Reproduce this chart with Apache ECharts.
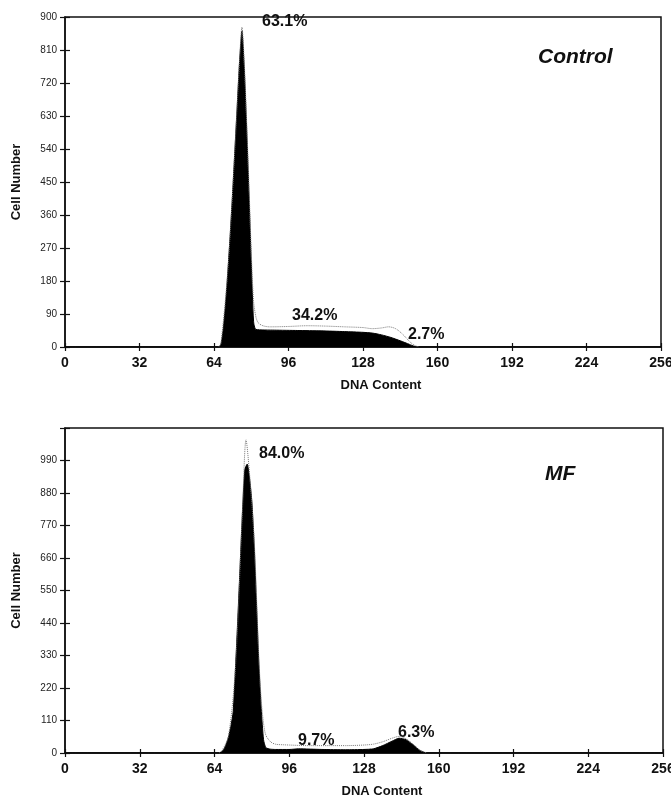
<!DOCTYPE html>
<html>
<head>
    <title>DNA Content histograms</title>
    <script src="https://cdn.jsdelivr.net/npm/echarts@6/dist/echarts.min.js"></script>
    <style>
        html, body { margin: 0; padding: 0; background: #fff; }
        #chart { width: 671px; height: 802px; }
    </style>
</head>
<body>
    <div id="chart"></div>

    <script>
        // channel positions + counts
        const controlChannels = [0, 60, 66, 67, 68, 69, 70, 71, 72, 73, 74, 75, 76, 77, 78, 79, 80, 81, 82, 90, 100, 110, 120, 128, 132, 136, 140, 144, 148, 150, 152, 256];
        const controlCounts   = [0, 0, 0, 8, 50, 120, 210, 310, 420, 540, 660, 780, 862, 760, 600, 420, 230, 70, 48, 46, 45, 44, 42, 40, 38, 33, 26, 17, 7, 2, 0, 0];

        const controlFitChannels = [66, 67, 70, 73, 75, 76, 77, 78, 79, 80, 81, 82, 83, 85, 88, 96, 104, 112, 120, 128, 132, 136, 139, 142, 145, 148, 150, 152];
        const controlFitCounts   = [0, 10, 215, 545, 785, 872, 775, 620, 445, 260, 125, 82, 66, 58, 55, 56, 58, 57, 55, 53, 50, 52, 55, 50, 35, 15, 5, 0];

        const mfChannels = [0, 60, 66, 67, 68, 69, 70, 71, 72, 73, 74, 75, 76, 77, 78, 79, 80, 81, 82, 83, 84, 85, 86, 88, 90, 96, 100, 110, 120, 128, 132, 136, 140, 143, 146, 149, 152, 155, 256];
        const mfCounts   = [0, 0, 0, 5, 12, 30, 55, 90, 140, 290, 460, 640, 820, 960, 978, 930, 850, 700, 500, 300, 150, 45, 18, 13, 12, 12, 14, 12, 11, 12, 14, 25, 40, 50, 45, 28, 8, 0, 0];

        const mfFitChannels = [66, 67, 70, 73, 76, 77.5, 79, 81, 83, 84, 85, 86, 88, 90, 93, 96, 104, 112, 120, 128, 132, 136, 140, 143, 146, 149, 152, 155];
        const mfFitCounts   = [0, 5, 58, 295, 830, 1060, 945, 720, 320, 180, 100, 60, 38, 30, 28, 27, 25, 25, 25, 27, 30, 38, 50, 56, 48, 30, 10, 0];

        const xTicks = [0, 32, 64, 96, 128, 160, 192, 224, 256];
        const controlYTicks = [0, 90, 180, 270, 360, 450, 540, 630, 720, 810, 900];
        const mfYTicks = [0, 110, 220, 330, 440, 550, 660, 770, 880, 990, 1100];

        const font = '"Liberation Sans", Arial, Helvetica, sans-serif';

        const zip = (xs, ys) => xs.map((x, i) => [x, ys[i]]);

        const chart = echarts.init(document.getElementById('chart'), null, { renderer: 'canvas' });

        const grids = [
            { left: 65, top: 17, width: 596, height: 330 },
            { left: 65, top: 428, width: 598, height: 325 }
        ].map(g => Object.assign(g, {
            show: true, borderColor: '#111', borderWidth: 1.5, backgroundColor: 'transparent',
            containLabel: false, outerBoundsMode: 'none'
        }));

        function xAxesFor(gridIndex) {
            const base = {
                type: 'value', gridIndex: gridIndex, position: 'bottom', offset: 0,
                min: xTicks[0], max: xTicks[xTicks.length - 1], interval: xTicks[1] - xTicks[0],
                splitLine: { show: false }
            };
            return [
                Object.assign({}, base, {
                    name: 'DNA Content', nameLocation: 'middle', nameGap: 27, nameMoveOverlap: false,
                    nameTextStyle: { fontFamily: font, fontWeight: 'bold', fontSize: 13, color: '#111', padding: [0, 0, 0, 36] },
                    axisLine: { lineStyle: { color: '#111', width: 1.5 } },
                    axisTick: { length: 4, lineStyle: { color: '#111', width: 1.2 } },
                    axisLabel: { fontFamily: font, fontWeight: 'bold', fontSize: 14, color: '#111', margin: 4 }
                }),
                // upper half of the cross ticks
                Object.assign({}, base, {
                    axisLine: { show: false },
                    axisTick: { inside: true, length: 4, lineStyle: { color: '#111', width: 1.2 } },
                    axisLabel: { show: false }
                })
            ];
        }

        function yAxesFor(gridIndex, ticks, hideTop) {
            const max = ticks[ticks.length - 1];
            const interval = ticks[1] - ticks[0];
            const base = {
                type: 'value', gridIndex: gridIndex, min: 0, max: max, interval: interval,
                position: 'left', offset: 0,
                splitLine: { show: false }
            };
            return [
                Object.assign({}, base, {
                    name: 'Cell Number', nameLocation: 'middle', nameGap: 37,
                    nameTextStyle: { fontFamily: font, fontWeight: 'bold', fontSize: 13, color: '#111' },
                    axisLine: { lineStyle: { color: '#111', width: 1.5 } },
                    axisTick: { length: 5, lineStyle: { color: '#111', width: 1.2 } },
                    axisLabel: {
                        fontFamily: font, fontSize: 10, color: '#222', margin: 8,
                        formatter: v => (hideTop && v === max) ? '' : String(v)
                    }
                }),
                // inner half of the cross ticks
                Object.assign({}, base, {
                    axisLine: { show: false },
                    axisTick: { inside: true, length: 5, lineStyle: { color: '#111', width: 1.2 } },
                    axisLabel: { show: false }
                })
            ];
        }

        function histo(name, data, xi, yi) {
            return {
                name: name, type: 'line', xAxisIndex: xi, yAxisIndex: yi,
                data: data, symbol: 'none', smooth: 0.2,
                lineStyle: { color: '#000', width: 1 },
                areaStyle: { color: '#000', opacity: 1 },
                z: 2
            };
        }

        function fit(name, data, xi, yi) {
            return {
                name: name, type: 'line', xAxisIndex: xi, yAxisIndex: yi,
                data: data, symbol: 'none', smooth: 0.3,
                lineStyle: { color: '#777', width: 1, type: 'dotted' },
                z: 3
            };
        }

        function label(text, x, y, size, italic) {
            return {
                type: 'text', left: x, top: y,
                style: {
                    text: text, fill: '#111',
                    font: (italic ? 'italic ' : '') + 'bold ' + size + 'px ' + font
                }
            };
        }

        const option = {
            animation: false,
            grid: grids,
            xAxis: xAxesFor(0).concat(xAxesFor(1)),
            yAxis: yAxesFor(0, controlYTicks, false).concat(yAxesFor(1, mfYTicks, true)),
            series: [
                histo('Control', zip(controlChannels, controlCounts), 0, 0),
                fit('Control fit', zip(controlFitChannels, controlFitCounts), 0, 0),
                histo('MF', zip(mfChannels, mfCounts), 2, 2),
                fit('MF fit', zip(mfFitChannels, mfFitCounts), 2, 2)
            ],
            graphic: [
                label('63.1%', 262, 8, 16),
                label('Control', 538, 39, 21, true),
                label('34.2%', 292, 302, 16),
                label('2.7%', 408, 321, 16),
                label('84.0%', 259, 440, 16),
                label('MF', 545, 456, 21, true),
                label('9.7%', 298, 727, 16),
                label('6.3%', 398, 719, 16)
            ]
        };

        chart.setOption(option);
    </script>
</body>
</html>
